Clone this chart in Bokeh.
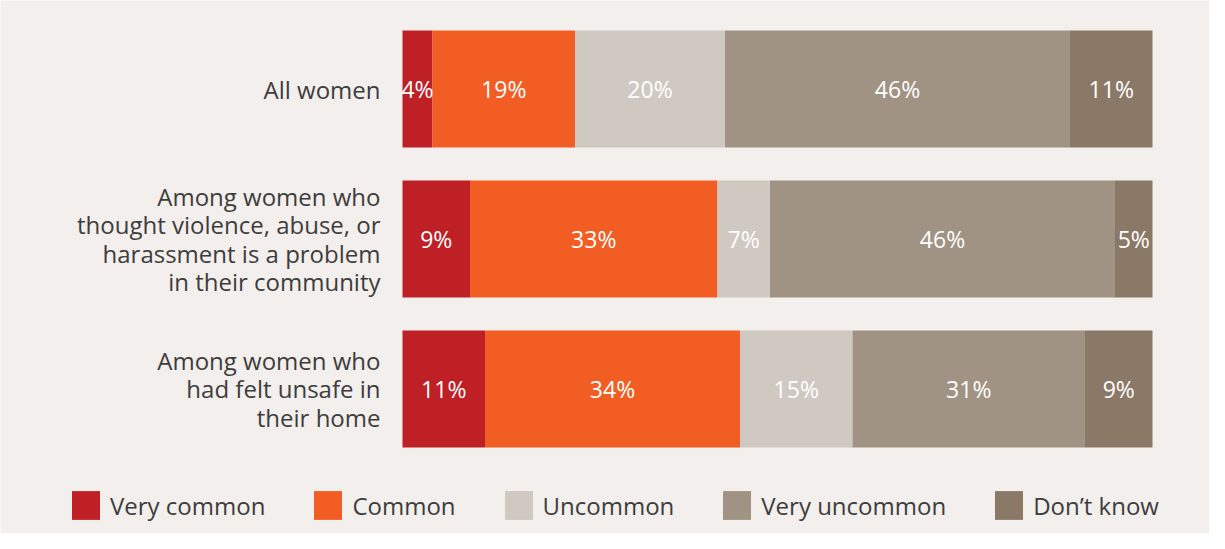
from bokeh.plotting import figure
from bokeh.models import ColumnDataSource, Range1d
from bokeh.core.properties import value
from bokeh.embed import file_html
from bokeh.resources import INLINE

# ---- data ----
categories = [
    "All women",
    "Among women who\nthought violence, abuse, or\nharassment is a problem\nin their community",
    "Among women who\nhad felt unsafe in\ntheir home",
]
series = ["Very common", "Common", "Uncommon", "Very uncommon", "Don\u2019t know"]
very_common = [4, 9, 11]
common = [19, 33, 34]
uncommon = [20, 7, 15]
very_uncommon = [46, 46, 31]
dont_know = [11, 5, 9]
colors = ["#be2026", "#f15d22", "#d0c9c2", "#a09383", "#8a7966"]

BG = "#f3efec"
FONT = "Open Sans"

W, H = 1209, 533
left_px = 402          # canvas px where 0% sits
px_per_pct = 7.5
row_px = 150
row0_px = 88.5

p = figure(width=W, height=H, output_backend="svg", toolbar_location=None,
           x_axis_location=None, y_axis_location=None,
           x_range=Range1d(-left_px / px_per_pct, (W - left_px) / px_per_pct),
           y_range=Range1d((H - row0_px) / row_px, -row0_px / row_px),
           min_border=0, background_fill_color=BG, border_fill_color=BG,
           outline_line_color=None)
p.grid.visible = False

keys = ["vc", "c", "u", "vu", "dk"]
vals = [very_common, common, uncommon, very_uncommon, dont_know]
ypos = list(range(len(categories)))
data = {"y": ypos, "cat": categories}
for k, v in zip(keys, vals):
    data[k] = v
src = ColumnDataSource(data)

p.hbar_stack(keys, y="y", height=0.78, color=colors, source=src,
             line_color=None, legend_label=series)

# value labels
lx, ly, lt = [], [], []
for i in range(len(categories)):
    cum = 0
    for v in vals:
        lx.append(cum + v[i] / 2)
        ly.append(i)
        lt.append(f"{v[i]}%")
        cum += v[i]
p.text(x=lx, y=ly, text=lt, text_align="center", text_baseline="middle",
       text_color="white", text_font=value(FONT), text_font_size="23px")

# category labels
p.text(x=[-22 / px_per_pct] * len(categories), y=ypos, text=categories,
       text_align="right", text_baseline="middle", text_color="#3d3d3d",
       text_font=value(FONT), text_font_size="24px", text_line_height=0.86)

lg = p.legend[0]
lg.orientation = "horizontal"
lg.location = (68, 10)
lg.glyph_width = 35
lg.glyph_height = 36
lg.label_standoff = 7
lg.spacing = 45
lg.padding = 0
lg.margin = 0
lg.border_line_color = None
lg.background_fill_alpha = 0
lg.label_text_font = FONT
lg.label_text_font_size = "24px"
lg.label_text_color = "#3d3d3d"
lg.label_height = 36

open("out.html", "w").write(file_html(p, INLINE))
